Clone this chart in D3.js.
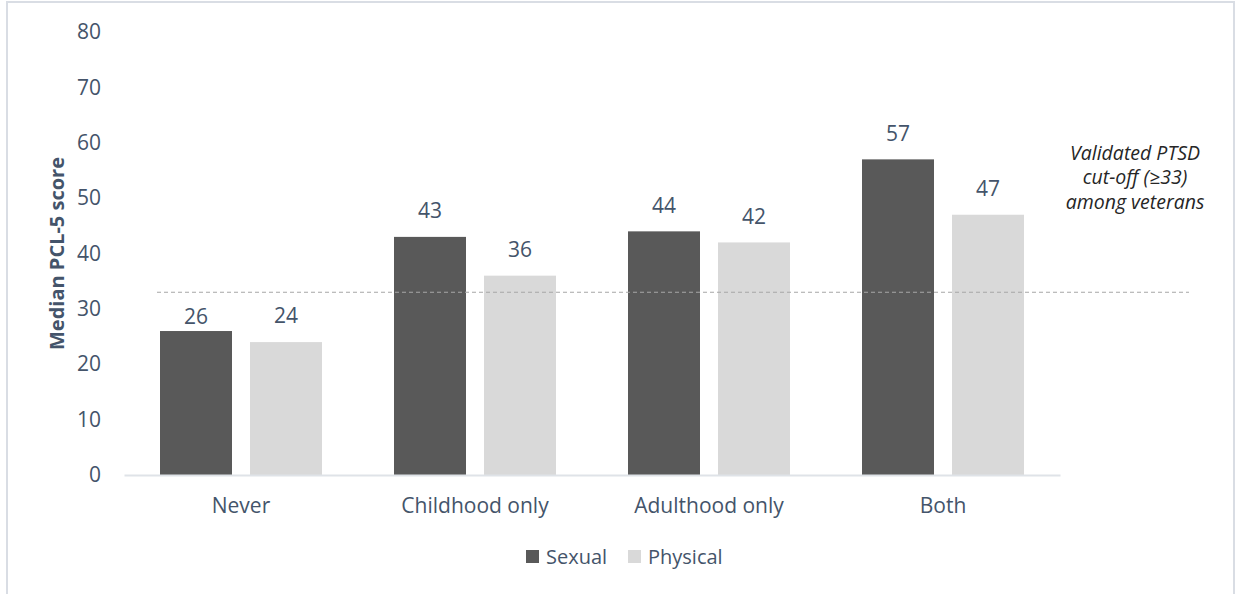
<!DOCTYPE html>
<html>
<head>
<meta charset="utf-8">
<script src="https://cdn.jsdelivr.net/npm/d3@7"></script>
<style>
  html, body { margin: 0; padding: 0; background: #fff; }
  svg { display: block; font-family: "Open Sans", "Noto Sans", sans-serif; }
</style>
</head>
<body>
<svg id="chart" width="1240" height="594"></svg>
<script>
// Median PCL-5 score by timing of abuse exposure
const categories = ["Never", "Childhood only", "Adulthood only", "Both"];
const seriesNames = ["Sexual", "Physical"];
const sexualValues = [26, 43, 44, 57];
const physicalValues = [24, 36, 42, 47];
const yTicks = [0, 10, 20, 30, 40, 50, 60, 70, 80];
const cutoff = 33;
const cutoffNote = ["Validated PTSD", "cut-off (\u226533)", "among veterans"];

const colors = { Sexual: "#595959", Physical: "#d9d9d9" };
const textColor = "#44546a";

const svg = d3.select("#chart");

// outer frame
svg.append("rect")
  .attr("x", 7).attr("y", 2).attr("width", 1227).attr("height", 620)
  .attr("fill", "#fff").attr("stroke", "#d9dde4").attr("stroke-width", 2);

const plot = { left: 124, right: 1060, top: 32, bottom: 475 };

const x = d3.scaleBand().domain(categories)
  .range([plot.left, plot.right]).paddingInner(0).paddingOuter(0);
const xs = d3.scaleBand().domain(seriesNames)
  .range([36, x.bandwidth() - 36]).paddingInner(0.2);
const y = d3.scaleLinear().domain([0, 80]).range([plot.bottom, plot.top]);

const rows = categories.map((c, i) => ({
  category: c,
  values: [
    { series: "Sexual", value: sexualValues[i] },
    { series: "Physical", value: physicalValues[i] }
  ]
}));

// y axis tick labels
const yAxis = d3.axisLeft(y).tickValues(yTicks).tickSize(0).tickPadding(0);
const gy = svg.append("g").attr("transform", "translate(101,0)").call(yAxis);
gy.select(".domain").remove();
gy.selectAll("text")
  .attr("fill", textColor).attr("font-size", 21)
  .attr("font-family", "'Open Sans', sans-serif");

// y axis title
svg.append("text")
  .attr("transform", `translate(64,${(plot.top + plot.bottom) / 2}) rotate(-90)`)
  .attr("text-anchor", "middle")
  .attr("fill", textColor).attr("font-size", 20).attr("font-weight", "bold")
  .text("Median PCL-5 score");

// bars
const groups = svg.append("g").selectAll("g").data(rows).join("g")
  .attr("transform", d => `translate(${x(d.category)},0)`);

groups.selectAll("rect").data(d => d.values).join("rect")
  .attr("x", d => xs(d.series))
  .attr("width", xs.bandwidth())
  .attr("y", d => y(d.value))
  .attr("height", d => y(0) - y(d.value))
  .attr("fill", d => colors[d.series]);

// value labels sit above each bar; one that would crowd the cut-off line drops just below it
const cutY = y(cutoff);
function labelCenter(v) {
  const c = y(v) - 26;
  return Math.abs(c - cutY) < 15 ? cutY + 24 : c;
}
groups.selectAll("text").data(d => d.values).join("text")
  .attr("x", d => xs(d.series) + xs.bandwidth() / 2)
  .attr("y", d => labelCenter(d.value))
  .attr("dy", "0.35em")
  .attr("text-anchor", "middle")
  .attr("fill", textColor).attr("font-size", 21)
  .text(d => d.value);

// x axis
const xAxis = d3.axisBottom(x).tickSize(0).tickPadding(23);
const gx = svg.append("g").attr("transform", `translate(0,${plot.bottom})`).call(xAxis);
gx.select(".domain").attr("stroke", "#dfe3e8").attr("stroke-width", 2);
gx.selectAll("text")
  .attr("fill", textColor).attr("font-size", 21)
  .attr("font-family", "'Open Sans', sans-serif");

// cut-off reference line
svg.append("line")
  .attr("x1", 157).attr("x2", 1189)
  .attr("y1", cutY).attr("y2", cutY)
  .attr("stroke", "#a6a6a6").attr("stroke-width", 1.2)
  .attr("stroke-dasharray", "4,3");

svg.append("text")
  .attr("text-anchor", "middle")
  .attr("font-style", "italic").attr("font-size", 19.5).attr("fill", "#262626")
  .selectAll("tspan").data(cutoffNote).join("tspan")
  .attr("x", 1135).attr("y", (d, i) => 153 + i * 24.5)
  .attr("dy", "0.35em")
  .text(d => d);

// legend
const legend = svg.append("g").attr("transform", "translate(526,557)");
const legendX = [0, 102];
seriesNames.forEach((s, i) => {
  const g = legend.append("g").attr("transform", `translate(${legendX[i]},0)`);
  g.append("rect").attr("x", 0).attr("y", -7).attr("width", 13).attr("height", 13)
    .attr("fill", colors[s]);
  g.append("text").attr("x", 20).attr("y", 0).attr("dy", "0.35em")
    .attr("fill", textColor).attr("font-size", 20).text(s);
});
</script>
</body>
</html>
